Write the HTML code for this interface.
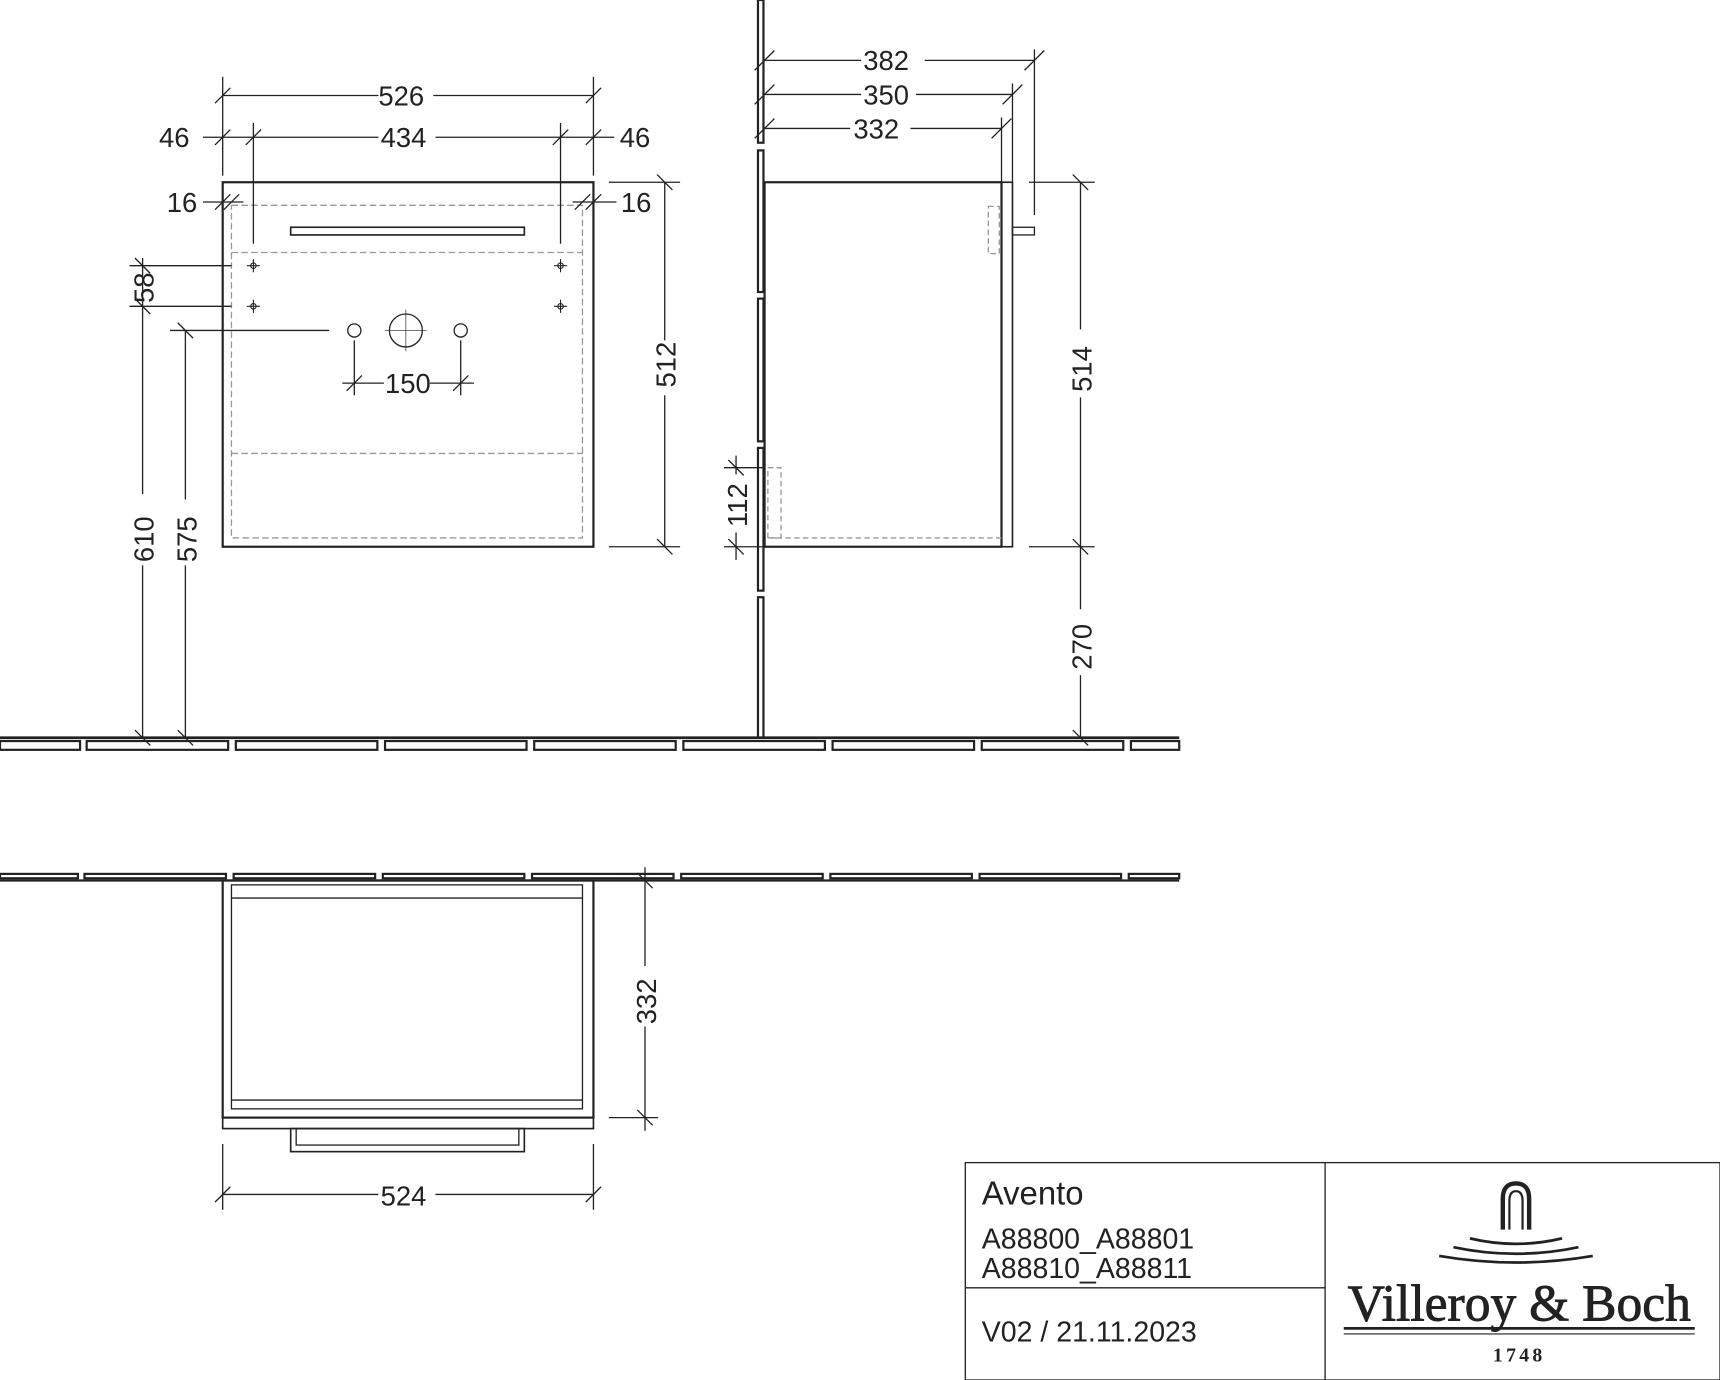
<!DOCTYPE html>
<html><head><meta charset="utf-8"><style>
html,body{margin:0;padding:0;background:#fff}
svg{display:block}
text{font-family:"Liberation Sans",sans-serif;fill:#222}
.d{font-size:25px;font-stretch:condensed}
</style></head><body>
<svg width="1720" height="1380" viewBox="0 0 1568 1257" preserveAspectRatio="none" xmlns="http://www.w3.org/2000/svg">
<g stroke="#222" fill="none" stroke-width="1.2">
<line x1="0" y1="672" x2="1075" y2="672" stroke-width="2.5"/>
<g stroke-width="2">
<rect x="0" y="675" width="73" height="8"/><rect x="79" y="675" width="129" height="8"/><rect x="215" y="675" width="129" height="8"/><rect x="351" y="675" width="129" height="8"/><rect x="487" y="675" width="129" height="8"/><rect x="623" y="675" width="129" height="8"/><rect x="759" y="675" width="129" height="8"/><rect x="895" y="675" width="129" height="8"/><rect x="1031" y="675" width="44" height="8"/>
</g>
<g stroke-width="2">
<rect x="0" y="796" width="71" height="4"/><rect x="77" y="796" width="129" height="4"/><rect x="213" y="796" width="129" height="4"/><rect x="349" y="796" width="129" height="4"/><rect x="485" y="796" width="129" height="4"/><rect x="621" y="796" width="129" height="4"/><rect x="757" y="796" width="129" height="4"/><rect x="893" y="796" width="129" height="4"/><rect x="1029" y="796" width="46" height="4"/>
</g>
<line x1="0" y1="802" x2="1075" y2="802" stroke-width="2"/>
<g stroke-width="2">
<rect x="691" y="0" width="5" height="130"/><rect x="691" y="137" width="5" height="129"/><rect x="691" y="272" width="5" height="130"/><rect x="691" y="408" width="5" height="130"/><rect x="691" y="544" width="5" height="128"/>
</g>
<rect x="203" y="166" width="338" height="332" stroke-width="2"/>
<g stroke="#999" stroke-dasharray="6,3">
<rect x="211" y="187" width="320" height="303"/>
<line x1="211" y1="230" x2="531" y2="230"/><line x1="211" y1="413" x2="531" y2="413"/>
</g>
<rect x="265" y="207" width="213" height="7" stroke-width="1.5"/>
<g stroke-width="1">
<circle cx="231" cy="242" r="2.5"/><line x1="225" y1="242" x2="237" y2="242"/><line x1="231" y1="236" x2="231" y2="248"/>
<circle cx="511" cy="242" r="2.5"/><line x1="505" y1="242" x2="517" y2="242"/><line x1="511" y1="236" x2="511" y2="248"/>
<circle cx="231" cy="279" r="2.5"/><line x1="225" y1="279" x2="237" y2="279"/><line x1="231" y1="273" x2="231" y2="285"/>
<circle cx="511" cy="279" r="2.5"/><line x1="505" y1="279" x2="517" y2="279"/><line x1="511" y1="273" x2="511" y2="285"/>
</g>
<circle cx="323" cy="301" r="6"/><circle cx="370" cy="301" r="15"/><circle cx="420" cy="301" r="6"/>
<line x1="370" y1="282" x2="370" y2="320" stroke-width="0.6"/><line x1="351" y1="301" x2="389" y2="301" stroke-width="0.6"/>
<line x1="203" y1="70" x2="203" y2="160"/><line x1="541" y1="70" x2="541" y2="160"/>
<line x1="203" y1="87" x2="345" y2="87"/><line x1="395" y1="87" x2="541" y2="87"/>
<line x1="196" y1="94" x2="210" y2="80"/><line x1="534" y1="94" x2="548" y2="80"/>
<line x1="231" y1="112" x2="231" y2="222"/><line x1="511" y1="112" x2="511" y2="222"/>
<line x1="185" y1="125" x2="345" y2="125"/><line x1="397" y1="125" x2="560" y2="125"/>
<line x1="196" y1="132" x2="210" y2="118"/><line x1="224" y1="132" x2="238" y2="118"/><line x1="504" y1="132" x2="518" y2="118"/><line x1="534" y1="132" x2="548" y2="118"/>
<line x1="185" y1="184" x2="222" y2="184"/><line x1="522" y1="184" x2="562" y2="184"/>
<line x1="204" y1="191" x2="218" y2="177"/><line x1="196" y1="191" x2="210" y2="177"/><line x1="524" y1="191" x2="538" y2="177"/><line x1="534" y1="191" x2="548" y2="177"/>
<line x1="555" y1="166" x2="620" y2="166"/><line x1="555" y1="498" x2="620" y2="498"/>
<line x1="606" y1="166" x2="606" y2="310"/><line x1="606" y1="360" x2="606" y2="498"/>
<line x1="599" y1="159" x2="613" y2="173"/><line x1="599" y1="491" x2="613" y2="505"/>
<line x1="118" y1="242" x2="211" y2="242"/><line x1="118" y1="279" x2="211" y2="279"/>
<line x1="130" y1="235" x2="130" y2="290"/><line x1="123" y1="235" x2="137" y2="249"/><line x1="123" y1="272" x2="137" y2="286"/>
<line x1="130" y1="290" x2="130" y2="450"/><line x1="130" y1="515" x2="130" y2="672"/><line x1="123" y1="665" x2="137" y2="679"/>
<line x1="155" y1="301" x2="300" y2="301"/>
<line x1="169" y1="301" x2="169" y2="455"/><line x1="169" y1="515" x2="169" y2="672"/>
<line x1="162" y1="294" x2="176" y2="308"/><line x1="162" y1="665" x2="176" y2="679"/>
<line x1="323" y1="310" x2="323" y2="360"/><line x1="420" y1="310" x2="420" y2="360"/>
<line x1="312" y1="349" x2="350" y2="349"/><line x1="392" y1="349" x2="432" y2="349"/>
<line x1="316" y1="356" x2="330" y2="342"/><line x1="413" y1="356" x2="427" y2="342"/>
<rect x="697" y="166" width="216" height="332" stroke-width="2"/>
<rect x="913" y="166" width="10" height="332" stroke-width="1.5"/>
<rect x="923" y="207" width="20" height="7"/>
<g stroke="#999" stroke-dasharray="5,3">
<rect x="901" y="188" width="10" height="43"/>
<rect x="700" y="426" width="12" height="64"/>
<line x1="700" y1="490" x2="913" y2="490"/>
</g>
<line x1="697" y1="55" x2="785" y2="55"/><line x1="843" y1="55" x2="943" y2="55"/>
<line x1="697" y1="86" x2="785" y2="86"/><line x1="835" y1="86" x2="923" y2="86"/>
<line x1="697" y1="117" x2="775" y2="117"/><line x1="830" y1="117" x2="913" y2="117"/>
<line x1="688" y1="64" x2="706" y2="46"/><line x1="688" y1="95" x2="706" y2="77"/><line x1="688" y1="126" x2="706" y2="108"/>
<line x1="934" y1="64" x2="952" y2="46"/><line x1="914" y1="95" x2="932" y2="77"/><line x1="904" y1="126" x2="922" y2="108"/>
<line x1="943" y1="45" x2="943" y2="196"/><line x1="923" y1="76" x2="923" y2="166"/><line x1="913" y1="107" x2="913" y2="166"/>
<line x1="938" y1="166" x2="998" y2="166"/><line x1="938" y1="498" x2="998" y2="498"/>
<line x1="985" y1="166" x2="985" y2="300"/><line x1="985" y1="362" x2="985" y2="555"/><line x1="985" y1="615" x2="985" y2="672"/>
<line x1="978" y1="159" x2="992" y2="173"/><line x1="978" y1="491" x2="992" y2="505"/><line x1="978" y1="665" x2="992" y2="679"/>
<line x1="660" y1="426" x2="697" y2="426"/><line x1="660" y1="498" x2="697" y2="498"/>
<line x1="671" y1="415" x2="671" y2="432"/><line x1="671" y1="485" x2="671" y2="510"/>
<line x1="664" y1="419" x2="678" y2="433"/><line x1="664" y1="491" x2="678" y2="505"/>
<rect x="203" y="802" width="338" height="216" stroke-width="2"/>
<rect x="211" y="806" width="320" height="204"/>
<line x1="211" y1="818" x2="531" y2="818"/><line x1="211" y1="1002" x2="531" y2="1002"/>
<rect x="203" y="1018" width="338" height="10" stroke-width="1.5"/>
<rect x="265" y="1028" width="213" height="21" stroke-width="1.5"/>
<rect x="270" y="1028" width="203" height="15"/>
<line x1="555" y1="802" x2="600" y2="802"/><line x1="555" y1="1018" x2="600" y2="1018"/>
<line x1="588" y1="790" x2="588" y2="880"/><line x1="588" y1="935" x2="588" y2="1030"/>
<line x1="581" y1="795" x2="595" y2="809"/><line x1="581" y1="1011" x2="595" y2="1025"/>
<line x1="203" y1="1042" x2="203" y2="1102"/><line x1="541" y1="1042" x2="541" y2="1102"/>
<line x1="203" y1="1088" x2="345" y2="1088"/><line x1="397" y1="1088" x2="541" y2="1088"/>
<line x1="196" y1="1095" x2="210" y2="1081"/><line x1="534" y1="1095" x2="548" y2="1081"/>
<rect x="880" y="1059" width="688" height="198"/>
<line x1="1208" y1="1059" x2="1208" y2="1257"/><line x1="880" y1="1173" x2="1208" y2="1173"/>
<path d="M1370 1120 V1092 Q1370 1078 1382 1078 Q1394 1078 1394 1092 V1120" stroke-width="4"/>
<path d="M1376 1120 V1094 Q1376 1085 1382 1085 Q1388 1085 1388 1094 V1120" stroke-width="2"/>
<path d="M1340 1128 Q1382 1138 1424 1128" stroke-width="2.5"/>
<path d="M1325 1136 Q1382 1148 1439 1136" stroke-width="2.5"/>
<path d="M1312 1144 Q1382 1156 1452 1144" stroke-width="2.5"/>
<line x1="1225" y1="1210" x2="1545" y2="1210" stroke-width="2.5"/>
<line x1="1225" y1="1215" x2="1545" y2="1215" stroke-width="1"/>
</g>
<g class="d">
<text x="345" y="96">526</text>
<text x="145" y="134">46</text><text x="347" y="134">434</text><text x="565" y="134">46</text>
<text x="152" y="193">16</text><text x="566" y="193">16</text>
<text x="351" y="358">150</text>
<text transform="translate(616,353) rotate(-90)">512</text>
<text transform="translate(140,276) rotate(-90)">58</text>
<text transform="translate(140,512) rotate(-90)">610</text>
<text transform="translate(179,512) rotate(-90)">575</text>
<text x="787" y="64">382</text><text x="787" y="95">350</text><text x="778" y="126">332</text>
<text transform="translate(995,357) rotate(-90)">514</text>
<text transform="translate(995,610) rotate(-90)">270</text>
<text transform="translate(681,480) rotate(-90)">112</text>
<text transform="translate(598,933) rotate(-90)">332</text>
<text x="347" y="1098">524</text>
</g>
<text x="895" y="1097" font-size="30">Avento</text>
<text x="895" y="1137" font-size="26">A88800_A88801</text>
<text x="895" y="1164" font-size="26">A88810_A88811</text>
<text x="895" y="1222" font-size="26">V02 / 21.11.2023</text>
<text x="1385" y="1203" font-size="47" text-anchor="middle" stroke="#222" stroke-width="0.8" style="font-family:'Liberation Serif',serif">Villeroy &amp; Boch</text>
<text x="1385" y="1240" font-size="18" text-anchor="middle" font-weight="bold" letter-spacing="3" style="font-family:'Liberation Serif',serif">1748</text>
</svg>
</body></html>
